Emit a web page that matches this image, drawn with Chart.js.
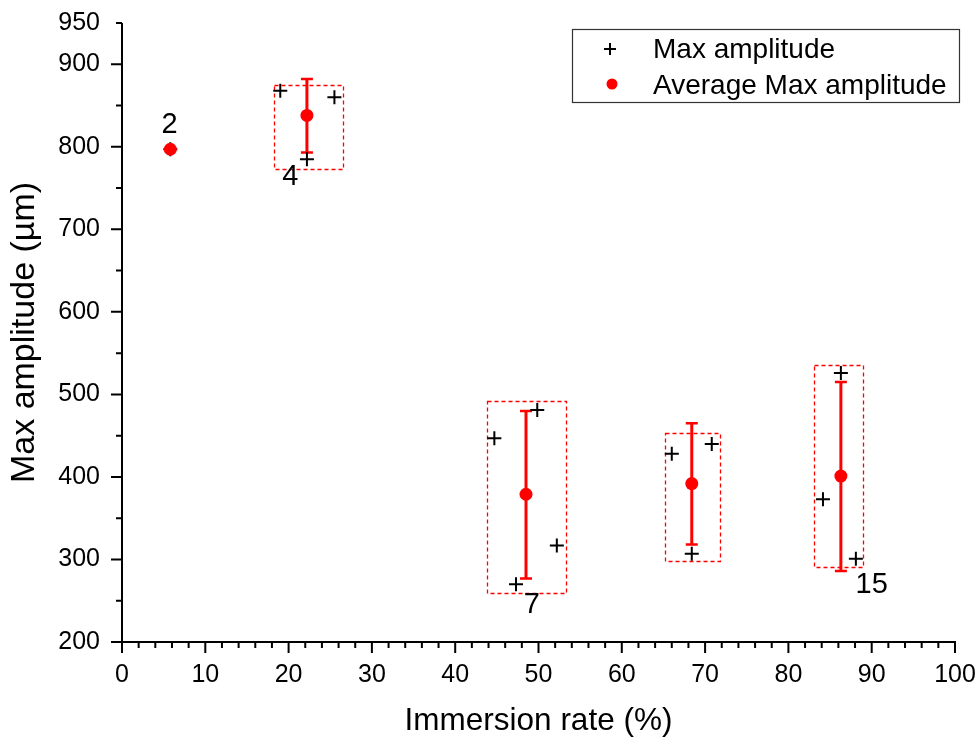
<!DOCTYPE html>
<html>
<head>
<meta charset="utf-8">
<script src="https://cdn.jsdelivr.net/npm/chart.js@4.4.0/dist/chart.umd.min.js"></script>
<style>
  html, body { margin: 0; padding: 0; background: #fff; }
  #wrap { width: 979px; height: 740px; }
</style>
</head>
<body>
<div id="wrap"><canvas id="ampChart"></canvas></div>
<script>
// individual measurements
const sampleX = [5.8, 19.0, 25.5, 22.2, 44.7, 49.85, 52.2, 47.3, 66.0, 70.8, 68.4, 86.3, 84.15, 88.1];
const sampleY = [797, 868, 860, 785, 447, 481, 317, 270, 428, 440, 307, 526, 373, 301];

// group averages and their spread
const avgX = [5.8, 22.2, 48.5, 68.4, 86.3];
const avgY = [797, 838, 379, 392, 401];
const errLow = [797, 793, 277, 318, 286];
const errHigh = [797, 882, 480, 465, 515];

// dashed boxes around each group
const boxX0 = [18.2, 43.85, 65.15, 83.1];
const boxX1 = [26.5, 53.3, 71.8, 89.0];
const boxY0 = [773, 259, 298, 291];
const boxY1 = [875, 492, 453, 536];

// group labels
const groupLabels = ["2", "4", "7", "15"];
const labelX = [5.7, 20.2, 49.2, 90.0];
const labelY = [826, 763, 245, 269];

// axis ticks
const xTicks = [0, 10, 20, 30, 40, 50, 60, 70, 80, 90, 100];
const xMinor = [2, 4, 6, 8, 12, 14, 16, 18, 22, 24, 26, 28, 32, 34, 36, 38, 42, 44, 46, 48, 52, 54, 56, 58, 62, 64, 66, 68, 72, 74, 76, 78, 82, 84, 86, 88, 92, 94, 96, 98];
const yTicks = [200, 300, 400, 500, 600, 700, 800, 900, 950];
const yMinor = [250, 350, 450, 550, 650, 750, 850, 950];

const FONT = "'Liberation Sans', Arial, sans-serif";

const decorPlugin = {
  id: "decor",
  beforeDatasetsDraw(chart) {
    const ctx = chart.ctx;
    const xs = chart.scales.x, ys = chart.scales.y;
    ctx.save();
    // dashed group boxes
    ctx.lineWidth = 1.3;
    ctx.strokeStyle = "#ff0000";
    ctx.setLineDash([4, 3]);
    for (let i = 0; i < boxX0.length; i++) {
      const x0 = xs.getPixelForValue(boxX0[i]), x1 = xs.getPixelForValue(boxX1[i]);
      const y0 = ys.getPixelForValue(boxY1[i]), y1 = ys.getPixelForValue(boxY0[i]);
      ctx.beginPath();
      ctx.rect(Math.round(x0) + 0.5, Math.round(y0) + 0.5, Math.round(x1 - x0), Math.round(y1 - y0));
      ctx.stroke();
    }
    ctx.setLineDash([]);
    // error bars
    for (let i = 0; i < avgX.length; i++) {
      if (errHigh[i] === errLow[i]) continue;
      const x = xs.getPixelForValue(avgX[i]);
      const yh = ys.getPixelForValue(errHigh[i]), yl = ys.getPixelForValue(errLow[i]);
      ctx.lineWidth = 3;
      ctx.beginPath();
      ctx.moveTo(x, yh); ctx.lineTo(x, yl);
      ctx.stroke();
      ctx.lineWidth = 2.5;
      ctx.beginPath();
      ctx.moveTo(x - 6, yh); ctx.lineTo(x + 6, yh);
      ctx.moveTo(x - 6, yl); ctx.lineTo(x + 6, yl);
      ctx.stroke();
    }
    ctx.restore();
  },
  afterDraw(chart) {
    const ctx = chart.ctx;
    const xs = chart.scales.x, ys = chart.scales.y;
    const a = chart.chartArea;
    ctx.save();
    // axes and ticks
    ctx.strokeStyle = "#000";
    ctx.lineWidth = 2;
    ctx.beginPath();
    ctx.moveTo(a.left, a.top); ctx.lineTo(a.left, a.bottom + 1);
    ctx.moveTo(a.left - 1, a.bottom); ctx.lineTo(a.right + 1, a.bottom);
    xTicks.forEach(v => { const x = xs.getPixelForValue(v); ctx.moveTo(x, a.bottom); ctx.lineTo(x, a.bottom + 11); });
    xMinor.forEach(v => { const x = xs.getPixelForValue(v); ctx.moveTo(x, a.bottom); ctx.lineTo(x, a.bottom + 6); });
    yTicks.filter(v => v % 100 === 0).forEach(v => { const y = ys.getPixelForValue(v); ctx.moveTo(a.left - 11, y); ctx.lineTo(a.left, y); });
    yMinor.forEach(v => { const y = ys.getPixelForValue(v); ctx.moveTo(a.left - 6, y); ctx.lineTo(a.left, y); });
    ctx.stroke();

    // group labels
    ctx.fillStyle = "#000";
    ctx.font = "29px " + FONT;
    ctx.textAlign = "center";
    ctx.textBaseline = "middle";
    groupLabels.forEach((t, i) => ctx.fillText(t, xs.getPixelForValue(labelX[i]), ys.getPixelForValue(labelY[i])));

    // legend box
    const bx = a.right - 383, by = a.top + 6, bw = 387, bh = 73;
    ctx.strokeStyle = "#333";
    ctx.lineWidth = 1.2;
    ctx.strokeRect(bx + 0.5, by + 0.5, bw, bh);
    ctx.strokeStyle = "#000";
    ctx.lineWidth = 2;
    ctx.beginPath();
    ctx.moveTo(bx + 32, by + 20); ctx.lineTo(bx + 44, by + 20);
    ctx.moveTo(bx + 38, by + 14); ctx.lineTo(bx + 38, by + 26);
    ctx.stroke();
    ctx.fillStyle = "#ff0000";
    ctx.beginPath();
    ctx.arc(bx + 40, by + 55, 5.5, 0, Math.PI * 2);
    ctx.fill();
    ctx.fillStyle = "#000";
    ctx.font = "28px " + FONT;
    ctx.textAlign = "left";
    ctx.fillText(chart.data.datasets[0].label, bx + 81, by + 21);
    ctx.fillText(chart.data.datasets[1].label, bx + 81, by + 57);
    ctx.restore();
  }
};

new Chart(document.getElementById("ampChart"), {
  type: "scatter",
  data: {
    datasets: [{
      label: "Max amplitude",
      data: sampleX.map((x, i) => ({ x: x, y: sampleY[i] })),
      pointStyle: "cross",
      pointRadius: 7,
      borderColor: "#000",
      backgroundColor: "#000",
      pointBorderWidth: 2,
      order: 1
    }, {
      label: "Average Max amplitude",
      data: avgX.map((x, i) => ({ x: x, y: avgY[i] })),
      pointStyle: "circle",
      pointRadius: 6.5,
      borderColor: "#ff0000",
      backgroundColor: "#ff0000",
      pointBorderWidth: 0,
      order: 0
    }]
  },
  options: {
    responsive: true,
    maintainAspectRatio: false,
    animation: false,
    layout: { padding: { top: 23, right: 24, left: 0, bottom: 0 } },
    plugins: {
      legend: { display: false },
      tooltip: { enabled: false }
    },
    scales: {
      x: {
        type: "linear",
        min: 0, max: 100,
        afterBuildTicks: s => { s.ticks = xTicks.map(v => ({ value: v })); },
        afterFit: s => { s.height = 98; s.paddingLeft = 0; s.paddingRight = 0; },
        grid: { display: false, drawTicks: false },
        border: { display: false },
        ticks: { color: "#000", padding: 18, maxRotation: 0, font: { family: FONT, size: 25 } },
        title: { display: true, text: "Immersion rate (%)", color: "#000", padding: 0, font: { family: FONT, size: 31.5 } }
      },
      y: {
        type: "linear",
        min: 200, max: 950,
        afterBuildTicks: s => { s.ticks = yTicks.map(v => ({ value: v })); },
        afterFit: s => { s.width = 122; s.paddingTop = 0; s.paddingBottom = 0; },
        grid: { display: false, drawTicks: false },
        border: { display: false },
        ticks: { color: "#000", padding: 22, font: { family: FONT, size: 25 } },
        title: { display: true, text: "Max amplitude (µm)", color: "#000", padding: { top: 4, bottom: 0 }, font: { family: FONT, size: 34 } }
      }
    }
  },
  plugins: [decorPlugin]
});
</script>
</body>
</html>
